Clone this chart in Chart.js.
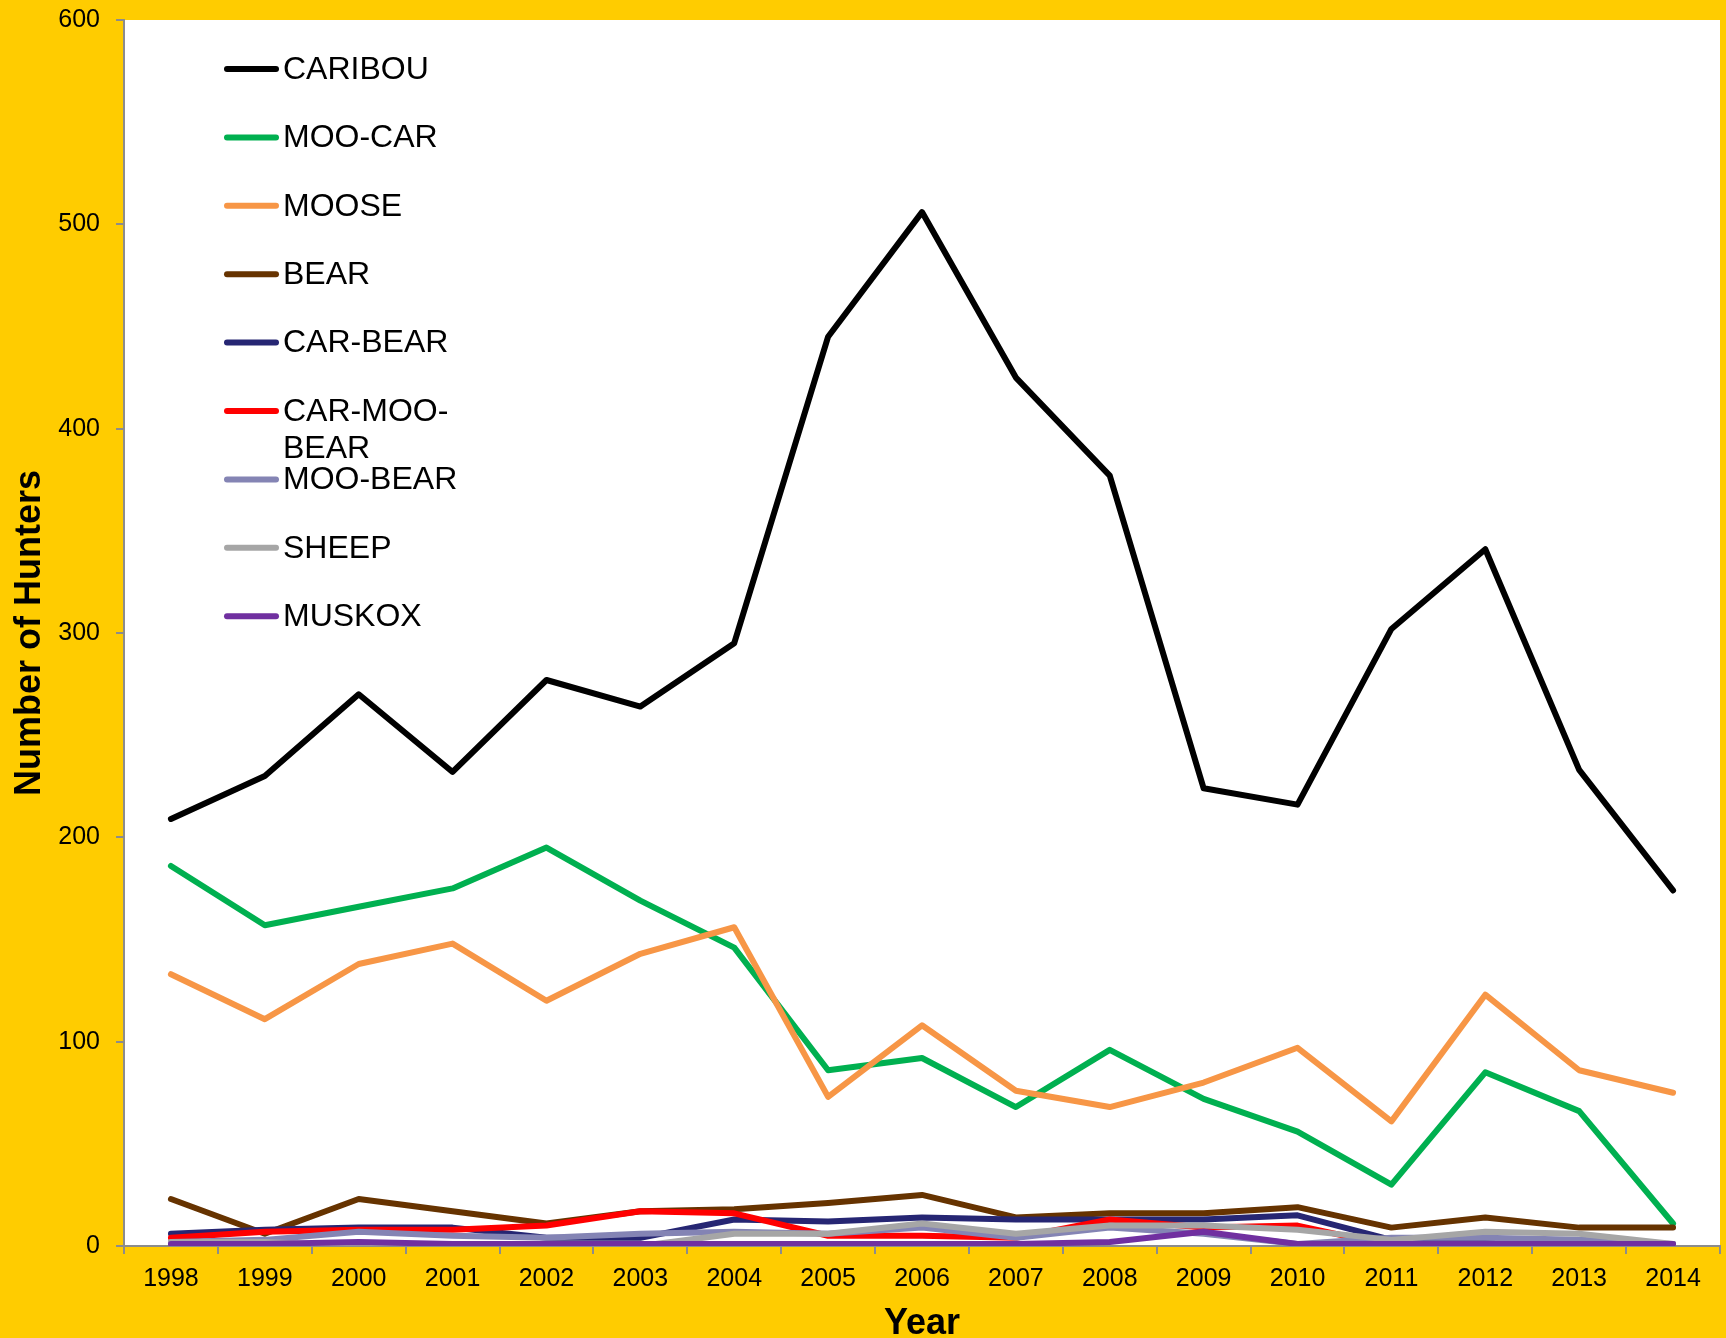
<!DOCTYPE html>
<html>
<head>
<meta charset="utf-8">
<title>Number of Hunters by Year</title>
<script src="https://cdn.jsdelivr.net/npm/chart.js@4.4.1/dist/chart.umd.min.js"></script>
<style>
  html, body { margin: 0; padding: 0; background: #FFCC00; }
  #wrap { width: 1726px; height: 1338px; }
  canvas { display: block; }
</style>
</head>
<body>
<div id="wrap"><canvas id="c" width="1726" height="1338"></canvas></div>
<script>
// ---- Data ----
const years = ['1998','1999','2000','2001','2002','2003','2004','2005','2006','2007','2008','2009','2010','2011','2012','2013','2014'];
const seriesNames = ['CARIBOU','MOO-CAR','MOOSE','BEAR','CAR-BEAR','CAR-MOO-BEAR','MOO-BEAR','SHEEP','MUSKOX'];
const caribou    = [209,230,270,232,277,264,295,445,506,425,377,224,216,302,341,233,174];
const mooCar     = [186,157,166,175,195,169,146,86,92,68,96,72,56,30,85,66,11];
const moose      = [133,111,138,148,120,143,156,73,108,76,68,80,97,61,123,86,75];
const bear       = [23,6,23,17,11,17,18,21,25,14,16,16,19,9,14,9,9];
const carBear    = [6,8,9,9,4,4,13,12,14,13,13,13,15,3,2,1,1];
const carMooBear = [4,7,8,8,10,17,16,5,5,4,13,9,10,0,1,1,0];
const mooBear    = [2,3,7,5,4,6,7,6,9,4,9,6,1,4,4,3,1];
const sheep      = [2,2,0,0,0,0,6,6,11,6,10,10,8,3,7,6,1];
const muskox     = [1,1,2,1,1,1,1,1,1,1,2,7,1,1,1,1,1];
const yTicks     = [0,100,200,300,400,500,600];
const yTitle = 'Number of Hunters';
const xTitle = 'Year';

const seriesValues = [caribou, mooCar, moose, bear, carBear, carMooBear, mooBear, sheep, muskox];
const seriesColors = ['#000000','#00B050','#F79646','#663300','#262673','#FF0000','#8484B4','#A6A6A6','#7030A0'];

const FONT = "'Liberation Sans', Arial, sans-serif";

const datasets = seriesNames.map((name, i) => ({
  label: name,
  data: seriesValues[i],
  borderColor: seriesColors[i],
  backgroundColor: seriesColors[i],
  borderWidth: 6,
  pointRadius: 0,
  pointHoverRadius: 0,
  tension: 0,
  fill: false,
  borderCapStyle: 'round',
  borderJoinStyle: 'round',
  order: seriesNames.length - i
}));

const bgPlugin = {
  id: 'bg',
  beforeDraw(chart) {
    const {ctx, chartArea: a} = chart;
    ctx.save();
    ctx.fillStyle = '#FFCC00';
    ctx.fillRect(0, 0, chart.width, chart.height);
    ctx.fillStyle = '#FFFFFF';
    ctx.fillRect(a.left, a.top, a.right - a.left, a.bottom - a.top);
    ctx.restore();
  }
};

function wrapLabel(ctx, text, maxW) {
  if (ctx.measureText(text).width <= maxW) return [text];
  const parts = text.split(/(?<=-)/);
  const lines = [];
  let cur = '';
  for (const p of parts) {
    if (cur && ctx.measureText(cur + p).width > maxW) { lines.push(cur); cur = p; }
    else cur += p;
  }
  if (cur) lines.push(cur);
  return lines;
}

const legendPlugin = {
  id: 'customLegend',
  afterDraw(chart) {
    const ctx = chart.ctx;
    ctx.save();
    ctx.font = '32px ' + FONT;
    ctx.textBaseline = 'middle';
    ctx.textAlign = 'left';
    chart.data.datasets.forEach((ds, i) => {
      const y = 69 + 68.4 * i;
      ctx.strokeStyle = ds.borderColor;
      ctx.lineWidth = 6;
      ctx.lineCap = 'round';
      ctx.beginPath();
      ctx.moveTo(227, y);
      ctx.lineTo(276, y);
      ctx.stroke();
      ctx.fillStyle = '#000000';
      const lines = wrapLabel(ctx, ds.label, 182);
      lines.forEach((ln, k) => ctx.fillText(ln, 283, y + 1 + k * 37));
    });
    ctx.restore();
  }
};

new Chart(document.getElementById('c'), {
  type: 'line',
  data: { labels: years, datasets },
  plugins: [bgPlugin, legendPlugin],
  options: {
    responsive: false,
    animation: false,
    devicePixelRatio: 1,
    layout: { padding: { top: 20, right: 6, left: 0, bottom: 0 } },
    plugins: { legend: { display: false }, tooltip: { enabled: false } },
    scales: {
      x: {
        type: 'category',
        offset: true,
        afterFit(scale) { scale.height = 92; },
        grid: { offset: true, drawOnChartArea: false, drawTicks: true, tickLength: 8, color: '#8C8C8C', lineWidth: 2 },
        border: { display: true, color: '#8C8C8C', width: 2 },
        ticks: { color: '#000000', font: { family: FONT, size: 25 }, padding: 10, maxRotation: 0, autoSkip: false },
        title: { display: true, text: xTitle, color: '#000000', font: { family: FONT, size: 36, weight: 'bold', lineHeight: 0.8 }, padding: { top: 0, bottom: 0 } }
      },
      y: {
        min: 0,
        max: 600,
        afterFit(scale) { scale.width = 124; },
        afterBuildTicks(scale) { scale.ticks = yTicks.map(v => ({ value: v })); },
        grid: { drawOnChartArea: false, drawTicks: true, tickLength: 8, color: '#8C8C8C', lineWidth: 2 },
        border: { display: true, color: '#8C8C8C', width: 2 },
        ticks: { color: '#000000', font: { family: FONT, size: 25, lineHeight: 0.3 }, padding: 16 },
        title: { display: true, text: yTitle, color: '#000000', font: { family: FONT, size: 36, weight: 'bold', lineHeight: 1 }, padding: { top: 12, bottom: 0 } }
      }
    }
  }
});
</script>
</body>
</html>
